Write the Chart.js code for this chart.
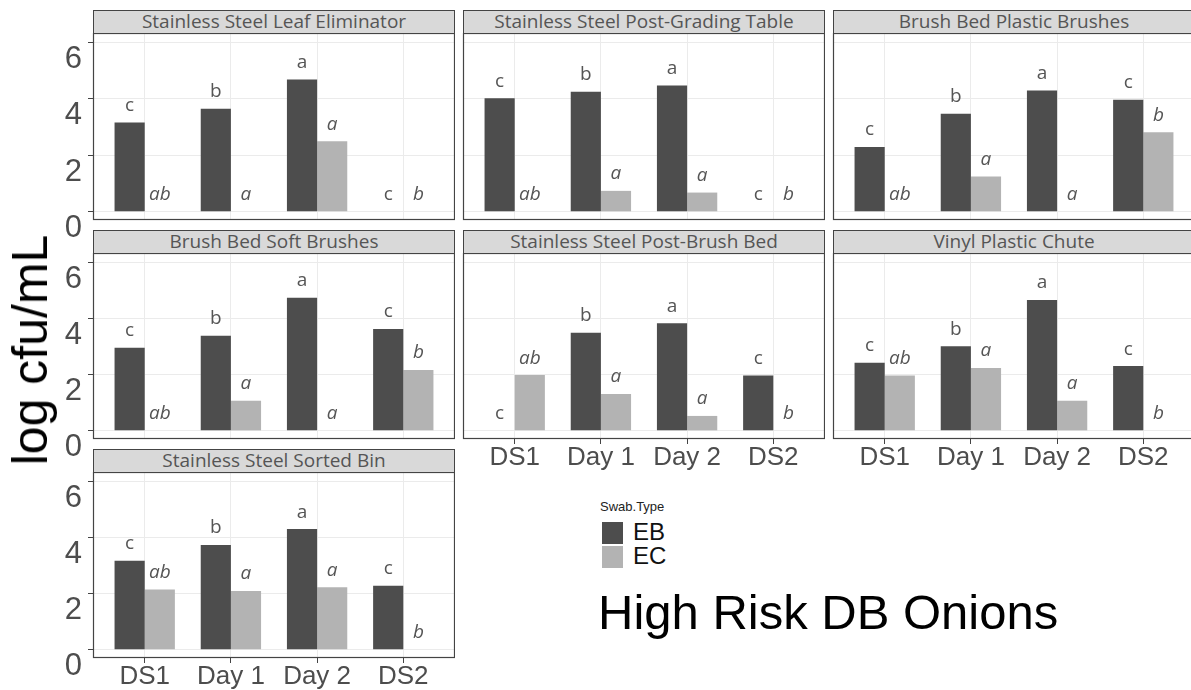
<!DOCTYPE html>
<html>
<head>
<meta charset="utf-8">
<script src="https://cdn.jsdelivr.net/npm/chart.js@4.4.0/dist/chart.umd.min.js"></script>
<style>
body { margin:0; width:1191px; height:690px; overflow:hidden; background:#fff; position:relative; font-family:"Liberation Sans", Arial, sans-serif; }
canvas, .strip, .txt, .key { position:absolute; }
.strip { box-sizing:border-box; background:#d9d9d9; border:1px solid #444; text-align:center; font-family:"Open Sans", sans-serif; font-size:19px; color:#555; line-height:21px; white-space:nowrap; overflow:hidden; }
.txt { white-space:nowrap; color:#000; }
</style>
</head>
<body>
<script>
// ===== DATA =====
const categories = ["DS1", "Day 1", "Day 2", "DS2"];
const yTicks = [0, 2, 4, 6];
const swabTypes = ["EB", "EC"];

const panelTitles = [
    "Stainless Steel Leaf Eliminator",
    "Stainless Steel Post-Grading Table",
    "Brush Bed Plastic Brushes",
    "Brush Bed Soft Brushes",
    "Stainless Steel Post-Brush Bed",
    "Vinyl Plastic Chute",
    "Stainless Steel Sorted Bin"
];

// log cfu/mL, one pair of arrays per surface
const leafEB      = [3.16, 3.64, 4.68, 0];
const leafEC      = [0, 0, 2.49, 0];
const gradingEB   = [4.01, 4.24, 4.46, 0];
const gradingEC   = [0, 0.74, 0.68, 0];
const plasticEB   = [2.29, 3.47, 4.29, 3.96];
const plasticEC   = [0, 1.25, 0, 2.81];
const softEB      = [2.95, 3.38, 4.73, 3.62];
const softEC      = [0, 1.07, 0, 2.16];
const postBrushEB = [0, 3.49, 3.82, 1.97];
const postBrushEC = [1.98, 1.31, 0.53, 0];
const chuteEB     = [2.42, 3.01, 4.65, 2.30];
const chuteEC     = [1.97, 2.23, 1.07, 0];
const binEB       = [3.17, 3.73, 4.29, 2.28];
const binEC       = [2.14, 2.09, 2.22, 0];

// significance letters
const ebLetters = ["c", "b", "a", "c"];
const ecLetters = ["ab", "a", "a", "b"];

const ebSeries = [leafEB, gradingEB, plasticEB, softEB, postBrushEB, chuteEB, binEB];
const ecSeries = [leafEC, gradingEC, plasticEC, softEC, postBrushEC, chuteEC, binEC];

// ===== LAYOUT =====
const colLeft = [93, 463, 833];
const rowTop = [33, 253, 472];
const rowH = [187, 186, 186];
const plotW = 362;
const axisW = 90, axisH = 40;
const EB_COL = "#4d4d4d", EC_COL = "#b3b3b3";

// letters above bars
const letterPlugin = {
    id: "letters",
    afterDatasetsDraw(chart) {
        const ctx = chart.ctx;
        ctx.save();
        ctx.fillStyle = "#555";
        ctx.textAlign = "center";
        ctx.textBaseline = "middle";
        chart.data.datasets.forEach((ds, d) => {
            ctx.font = (d === 1 ? "italic " : "") + "19px 'Open Sans'";
            chart.getDatasetMeta(d).data.forEach((bar, i) => {
                ctx.fillText(ds.letters[i], bar.x, bar.y - 17);
            });
        });
        ctx.restore();
    }
};

// panel border
const borderPlugin = {
    id: "panelBorder",
    afterDraw(chart) {
        const a = chart.chartArea, ctx = chart.ctx;
        ctx.save();
        ctx.strokeStyle = "#444";
        ctx.lineWidth = 1.2;
        ctx.strokeRect(a.left + 0.5, a.top + 0.5, a.right - a.left - 1, a.bottom - a.top - 1);
        ctx.restore();
    }
};

function makePanel(p) {
    const col = p % 3, row = Math.floor(p / 3);
    const left = colLeft[col], top = rowTop[row], h = rowH[row];
    const showY = col === 0;
    const showX = p >= 4;

    const strip = document.createElement("div");
    strip.className = "strip";
    strip.style.left = left + "px";
    strip.style.top = (top - 23) + "px";
    strip.style.width = plotW + "px";
    strip.style.height = "24px";
    strip.textContent = panelTitles[p];
    document.body.appendChild(strip);

    const canvas = document.createElement("canvas");
    canvas.width = plotW + axisW;
    canvas.height = h + axisH;
    canvas.style.left = (left - axisW) + "px";
    canvas.style.top = top + "px";
    document.body.appendChild(canvas);

    new Chart(canvas, {
        type: "bar",
        data: {
            datasets: [
                { label: swabTypes[0], data: ebSeries[p].map((v, i) => ({ x: i + 1, y: v })),
                  backgroundColor: EB_COL, letters: ebLetters },
                { label: swabTypes[1], data: ecSeries[p].map((v, i) => ({ x: i + 1, y: v })),
                  backgroundColor: EC_COL, letters: ecLetters }
            ]
        },
        options: {
            responsive: false,
            animation: false,
            devicePixelRatio: 1,
            layout: { padding: 0 },
            categoryPercentage: 0.7,
            barPercentage: 1,
            plugins: { legend: { display: false }, tooltip: { enabled: false } },
            scales: {
                x: {
                    type: "linear",
                    min: 0.4,
                    max: 4.6,
                    offset: false,
                    afterBuildTicks: s => { s.ticks = categories.map((c, i) => ({ value: i + 1 })); },
                    afterFit: s => { s.height = axisH; s.paddingLeft = 0; s.paddingRight = 0; },
                    grid: { offset: false, color: "#ebebeb", tickColor: "#444", tickLength: 5, drawTicks: showX },
                    border: { display: false },
                    ticks: {
                        display: showX,
                        autoSkip: false,
                        maxRotation: 0,
                        padding: -2,
                        color: "#4d4d4d",
                        font: { family: "Liberation Sans", size: 26 },
                        callback: v => categories[v - 1] || ""
                    }
                },
                y: {
                    min: -0.29,
                    max: 6.32,
                    afterBuildTicks: s => { s.ticks = yTicks.map(v => ({ value: v })); },
                    afterFit: s => { s.width = axisW; s.paddingTop = 0; s.paddingBottom = 0; },
                    grid: { color: "#ebebeb", tickColor: "#444", tickLength: 5, drawTicks: showY },
                    border: { display: false },
                    ticks: {
                        display: showY,
                        padding: 6,
                        labelOffset: 17,
                        color: "#4d4d4d",
                        font: { family: "Liberation Sans", size: 31 }
                    }
                }
            }
        },
        plugins: [letterPlugin, borderPlugin]
    });
}

for (let p = 0; p < panelTitles.length; p++) makePanel(p);

// ===== AXIS TITLE, LEGEND, CAPTION =====
function addText(txt, css) {
    const d = document.createElement("div");
    d.className = "txt";
    d.textContent = txt;
    Object.assign(d.style, css);
    document.body.appendChild(d);
    return d;
}

addText("log cfu/mL", {
    left: "30px", top: "350px", fontSize: "50px", lineHeight: "50px",
    transform: "translate(-50%, -50%) rotate(-90deg)"
});

addText("Swab.Type", { left: "600px", top: "499px", fontSize: "13px", color: "#222" });
[EB_COL, EC_COL].forEach((c, i) => {
    const k = document.createElement("div");
    k.className = "key";
    Object.assign(k.style, { left: "602px", top: (522 + i * 24) + "px", width: "21px", height: "22px", background: c });
    document.body.appendChild(k);
    addText(swabTypes[i], { left: "633px", top: (519 + i * 24) + "px", fontSize: "24px", lineHeight: "26px", color: "#111" });
});

addText("High Risk DB Onions", { left: "598px", top: "583px", fontSize: "49px", lineHeight: "58px" });
</script>
</body>
</html>
